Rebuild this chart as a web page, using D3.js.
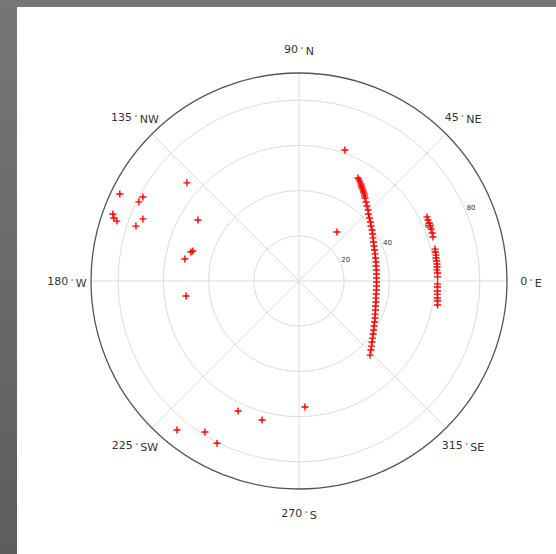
<!DOCTYPE html>
<html>
<head>
<meta charset="utf-8">
<script src="https://cdn.jsdelivr.net/npm/d3@7"></script>
<style>
  html, body { margin: 0; padding: 0; }
  body { width: 556px; height: 554px; overflow: hidden; }
  text { font-family: "DejaVu Sans", sans-serif; fill: #333333; }
</style>
</head>
<body>
<div id="chart"></div>
<script>
// angle labels (degrees, counter clockwise from east)
var angleTicks = [0, 45, 90, 135, 180, 225, 270, 315];
var angleNames = ["E", "NE", "N", "NW", "W", "SW", "S", "SE"];
var radialTicks = [20, 40, 60, 80];

// inner track
var trackATheta = [60.2, 59.3, 58.4, 57.4, 56.7, 55.9, 54.9, 54.1, 53.2, 52.4, 51.5, 49.7, 47.8, 45.8,
  43.9, 41.8, 39.5, 37.4, 34.9, 32.6, 30.2, 27.6, 25.0, 22.3, 19.6, 16.7, 13.9, 11.0, 8.1, 5.2, 2.2,
  -0.7, -3.7, -6.6, -9.6, -12.5, -15.3, -18.1, -20.8, -23.5, -26.0, -28.5, -31.0, -33.3, -35.6,
  -37.8, -39.9, -41.9, -43.8, -46.2];
var trackAR = [52.5, 52.0, 51.5, 50.9, 50.3, 49.7, 49.2, 48.6, 48.1, 47.5, 46.9, 45.8, 44.8, 43.8,
  42.7, 41.8, 41.0, 40.1, 39.4, 38.6, 37.9, 37.2, 36.6, 36.1, 35.7, 35.3, 35.1, 34.7, 34.6, 34.4, 34.3,
  34.3, 34.4, 34.5, 34.6, 34.9, 35.3, 35.6, 36.2, 36.7, 37.4, 38.0, 38.7, 39.5, 40.3,
  41.2, 42.1, 43.1, 44.1, 45.4];

// outer track
var trackBTheta = [26.6, 25.3, 24.0, 22.8, 21.5, 19.8, 18.2, 13.2, 12.0, 10.7, 9.5, 8.3, 7.0, 5.8,
  4.6, 3.3, 1.7, -1.2, -2.5, -4.1, -5.4, -7.0, -8.2, -9.8];
var trackBR = [63.3, 63.1, 63.0, 62.9, 62.8, 62.6, 62.4, 61.8, 61.7, 61.7, 61.5, 61.5, 61.5, 61.4,
  61.2, 61.4, 61.3, 61.3, 61.3, 61.4, 61.5, 61.7, 61.9, 62.2];

// scattered points
var otherTheta = [70.7, 52.2, 154.1, 138.8, 153.7, 151.7, 160.2, 161.2, 161.8, 158.3, 161.4, 148.9,
  164.2, 165.0, 169.1, 187.6, 244.9, 255.1, 272.7, 230.7, 238.1, 243.2];
var otherR = [61.4, 27.4, 88.1, 65.9, 79.0, 78.4, 87.5, 86.5, 84.8, 74.3, 76.1, 52.2,
  48.8, 49.5, 51.4, 50.4, 63.5, 63.6, 55.8, 85.2, 78.7, 80.4];

var width = 556, height = 554;
var cx = 299, cy = 281;
var rMax = 92;

var svg = d3.select("#chart").append("svg")
  .attr("width", width)
  .attr("height", height);

// gray frame behind the figure
var grad = svg.append("defs").append("linearGradient")
  .attr("id", "bg").attr("x1", 0).attr("y1", 0).attr("x2", 0).attr("y2", 1);
grad.append("stop").attr("offset", "0%").attr("stop-color", "#767676");
grad.append("stop").attr("offset", "100%").attr("stop-color", "#5d5d5d");
svg.append("rect").attr("width", width).attr("height", height).attr("fill", "url(#bg)");
svg.append("rect").attr("x", 17).attr("y", 7).attr("width", width - 17).attr("height", height - 7)
  .attr("fill", "#ffffff");

var rScale = d3.scaleLinear().domain([0, rMax]).range([0, 208]);

var g = svg.append("g").attr("transform", "translate(" + cx + "," + cy + ")");

function px(theta, r) {
  var a = theta * Math.PI / 180;
  return [rScale(r) * Math.cos(a), -rScale(r) * Math.sin(a)];
}

// grid circles
g.selectAll(".gridCircle")
  .data(radialTicks)
  .enter()
  .append("circle")
  .attr("r", function (d) { return rScale(d); })
  .attr("fill", "none")
  .attr("stroke", "#dcdcdc")
  .attr("stroke-width", 1);

// spokes
g.selectAll(".spoke")
  .data(angleTicks)
  .enter()
  .append("line")
  .attr("x1", 0).attr("y1", 0)
  .attr("x2", function (d) { return px(d, rMax)[0]; })
  .attr("y2", function (d) { return px(d, rMax)[1]; })
  .attr("stroke", "#dcdcdc")
  .attr("stroke-width", 1);

// outer frame
g.append("circle")
  .attr("r", rScale(rMax))
  .attr("fill", "none")
  .attr("stroke", "#555555")
  .attr("stroke-width", 1.3);

// radial tick labels
g.selectAll(".rlabel")
  .data(radialTicks)
  .enter()
  .append("text")
  .attr("x", function (d) { return px(22.5, d)[0] + 5; })
  .attr("y", function (d) { return px(22.5, d)[1] - 4; })
  .attr("text-anchor", "middle")
  .attr("dy", "0.35em")
  .style("font-size", "7px")
  .text(function (d) { return d; });

// angle labels with degree sign
var alabels = g.selectAll(".alabel")
  .data(angleTicks)
  .enter()
  .append("text")
  .attr("x", function (d) { return 232 * Math.cos(d * Math.PI / 180); })
  .attr("y", function (d) { return -232 * Math.sin(d * Math.PI / 180); })
  .attr("text-anchor", "middle")
  .attr("dy", "0.35em")
  .style("font-size", "11px");
alabels.append("tspan").text(function (d) { return d; });
alabels.append("tspan").attr("dy", "-0.4em").style("font-size", "6px").text(" \u2218 ");
alabels.append("tspan").attr("dy", "0.4em").text(function (d, i) { return angleNames[i]; });

// markers
function plus(sel) {
  sel.append("path")
    .attr("d", "M-3.5,0H3.5M0,-3.5V3.5")
    .attr("stroke", "#ff0000")
    .attr("stroke-width", 1.4)
    .attr("fill", "none");
}

var points = [];
trackATheta.forEach(function (t, i) { points.push([t, trackAR[i]]); });
trackBTheta.forEach(function (t, i) { points.push([t, trackBR[i]]); });
otherTheta.forEach(function (t, i) { points.push([t, otherR[i]]); });

g.selectAll(".pt")
  .data(points)
  .enter()
  .append("g")
  .attr("transform", function (d) {
    var p = px(d[0], d[1]);
    return "translate(" + p[0] + "," + p[1] + ")";
  })
  .call(plus);
</script>
</body>
</html>
